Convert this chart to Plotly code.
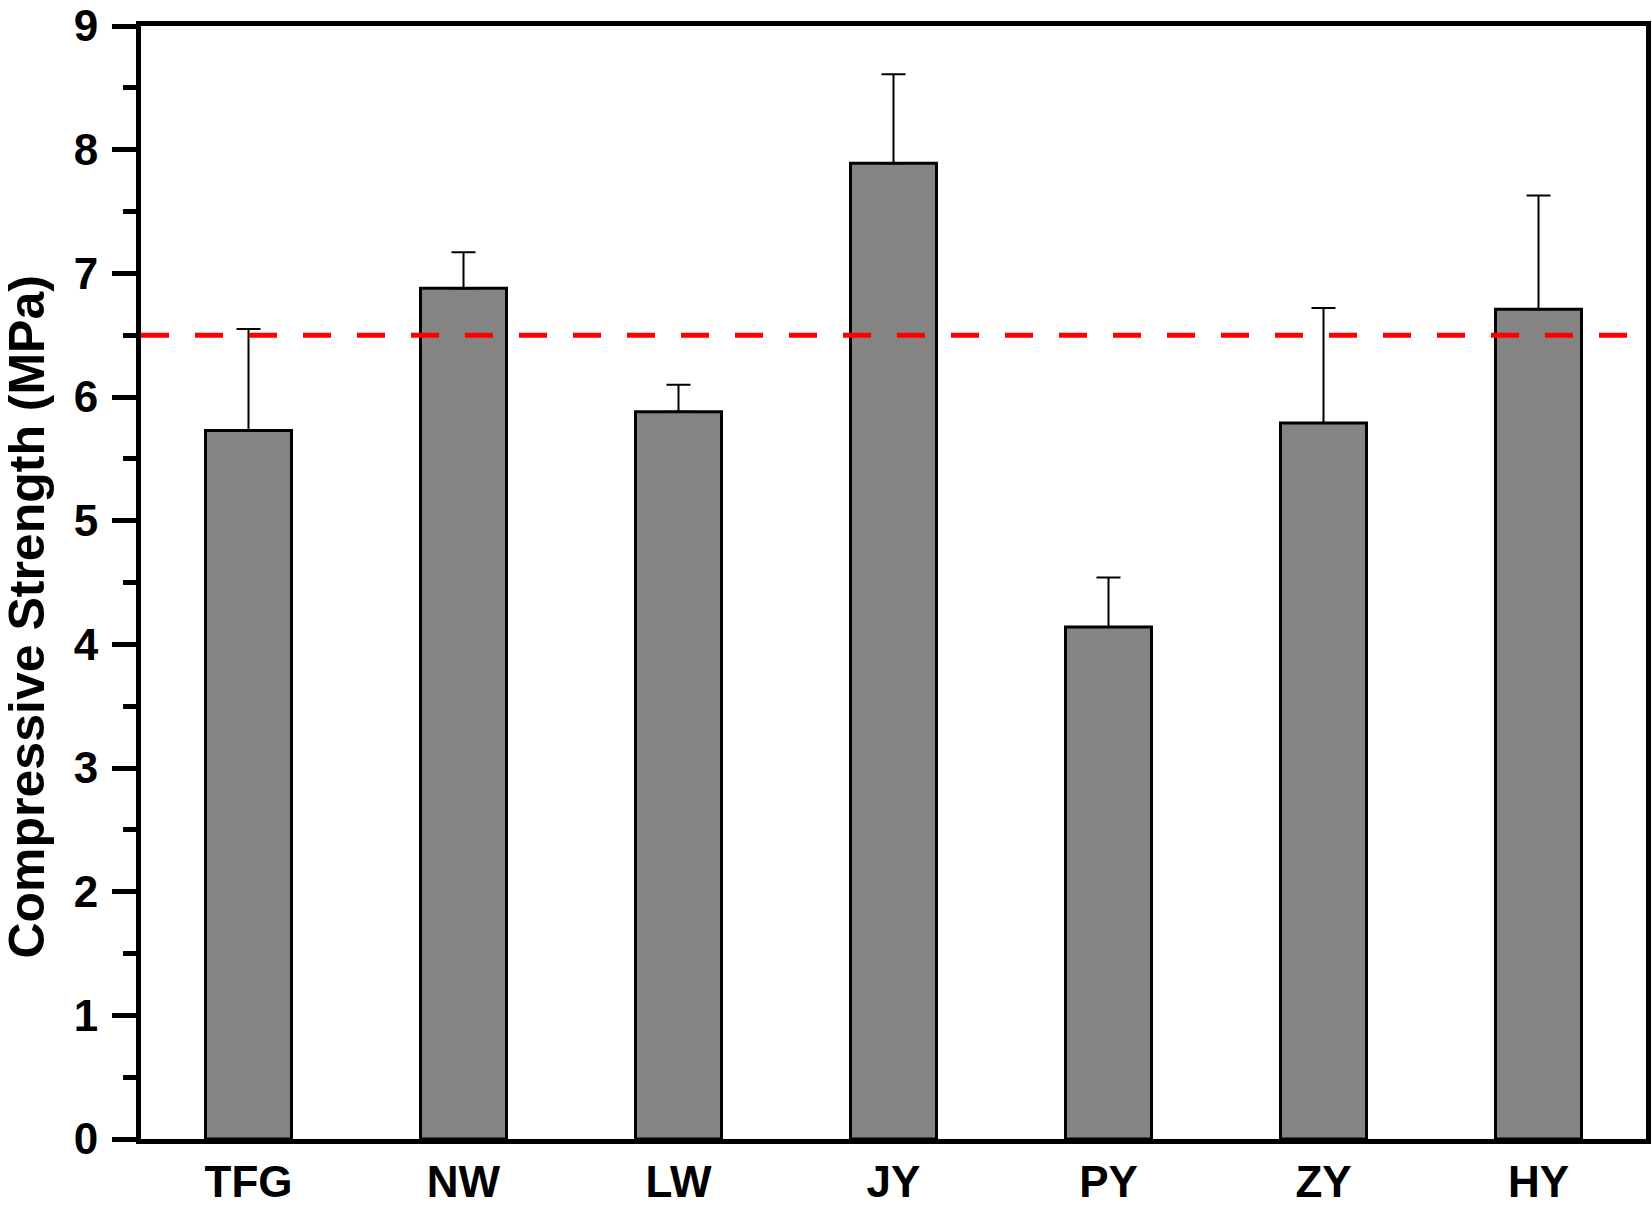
import plotly.graph_objects as go

categories = ["TFG", "NW", "LW", "JY", "PY", "ZY", "HY"]
strength = [5.73, 6.88, 5.88, 7.89, 4.14, 5.79, 6.71]
error_up = [0.82, 0.29, 0.22, 0.72, 0.40, 0.93, 0.92]
reference_level = 6.5
y_ticks = [0, 1, 2, 3, 4, 5, 6, 7, 8, 9]
y_title = "Compressive Strength (MPa)"

FONT = "Liberation Sans, Arial, sans-serif"

W, H = 1652, 1206
L, R, T, B = 140.5, 5.5, 25.5, 66.5
plot_w = W - L - R
plot_h = H - T - B

fig = go.Figure()
fig.add_trace(go.Bar(
    x=categories,
    y=strength,
    marker=dict(color="rgb(132,132,132)", line=dict(color="black", width=3)),
    error_y=dict(type="data", array=error_up, arrayminus=[0] * len(error_up),
                 symmetric=False, color="black", thickness=2, width=12),
    width=0.40,
    showlegend=False,
))

fig.add_shape(type="line", xref="paper", yref="y", x0=0, x1=1,
              y0=reference_level, y1=reference_level,
              line=dict(color="red", width=5, dash="28px,26px"), layer="above")

# y-axis title placed as an annotation (pixel centre at x=26, y=617)
fig.add_annotation(text=y_title, xref="paper", yref="paper",
                   x=(26 - L) / plot_w, y=1 - (617 - T) / plot_h,
                   xanchor="center", yanchor="middle", textangle=-90, showarrow=False,
                   font=dict(family=FONT, size=50, color="black", weight="bold"))

fig.update_layout(
    width=W, height=H,
    margin=dict(l=L, r=R, t=T, b=B, autoexpand=False),
    paper_bgcolor="white", plot_bgcolor="white",
    font=dict(family=FONT, size=44, color="black", weight="bold"),
)
fig.update_xaxes(
    automargin=False,
    showline=True, linecolor="black", linewidth=5, mirror=True,
    ticks="", showgrid=False, zeroline=False,
    tickfont=dict(family=FONT, size=44, color="black", weight="bold"),
)
fig.update_yaxes(
    automargin=False,
    range=[0, 9], tickvals=y_ticks, ticktext=[str(v) for v in y_ticks],
    showline=True, linecolor="black", linewidth=5, mirror=True,
    ticks="outside", ticklen=24, tickwidth=5, tickcolor="black",
    ticklabelstandoff=5, ticklabeloverflow="allow",
    minor=dict(dtick=0.5, tick0=0, ticks="outside", ticklen=13, tickwidth=5, tickcolor="black"),
    showgrid=False, zeroline=False,
    tickfont=dict(family=FONT, size=44, color="black", weight="bold"),
)

fig.write_html("out.html", config={"displayModeBar": False},
               post_script="document.body.style.margin='0';")
